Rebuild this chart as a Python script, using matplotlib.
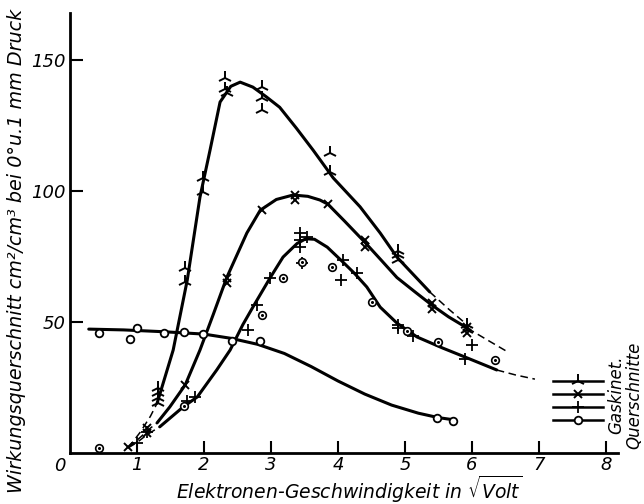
import matplotlib

matplotlib.use("Agg")
import matplotlib.pyplot as plt

# ---- curves (x in sqrt(Volt), y in cm^2/cm^3) ----
tri_line_x = [1.30, 1.54, 1.75, 1.94, 2.09, 2.24, 2.40, 2.54, 2.73, 2.93, 3.13, 3.38, 3.63, 3.93, 4.33, 4.63, 4.88, 5.13, 5.37]
tri_line_y = [19.0, 39.3, 66.0, 97.7, 115.6, 134.0, 140.0, 141.6, 139.7, 136.0, 132.0, 124.0, 115.6, 105.0, 94.0, 84.0, 74.8, 68.0, 61.5]
tri_dash_x = [5.37, 5.65, 5.93]
tri_dash_y = [61.5, 55.0, 48.9]
tri_low_x = [0.87, 1.05, 1.20, 1.30]
tri_low_y = [2.0, 8.0, 14.0, 19.0]

crs_line_x = [1.30, 1.49, 1.72, 1.94, 2.14, 2.34, 2.64, 2.84, 3.08, 3.33, 3.55, 3.73, 3.85, 4.10, 4.40, 4.65, 4.88, 5.15, 5.40, 5.65, 5.93]
crs_line_y = [11.5, 17.6, 26.0, 39.3, 53.0, 67.0, 84.0, 92.7, 96.8, 98.5, 98.0, 96.6, 95.0, 88.5, 80.5, 73.5, 67.0, 61.5, 56.5, 52.0, 47.7]
crs_dash_x = [5.93, 6.24, 6.54]
crs_dash_y = [47.7, 43.0, 38.5]
crs_low_x = [0.87, 1.05, 1.20, 1.30]
crs_low_y = [2.0, 6.0, 9.5, 11.5]

pls_line_x = [1.34, 1.69, 1.90, 2.19, 2.39, 2.58, 2.73, 2.99, 3.18, 3.39, 3.52, 3.65, 3.84, 4.07, 4.25, 4.43, 4.63, 4.88, 5.18, 5.57, 5.90, 6.37]
pls_line_y = [10.0, 17.6, 21.4, 31.7, 39.3, 49.0, 55.7, 67.0, 74.8, 80.0, 81.8, 81.6, 78.6, 73.0, 68.5, 63.4, 55.7, 49.6, 44.3, 40.0, 36.6, 31.7]
pls_dash_x = [6.37, 6.65, 6.94]
pls_dash_y = [31.7, 29.8, 28.2]
pls_low_x = [0.87, 1.00, 1.15, 1.34]
pls_low_y = [2.0, 4.0, 7.0, 10.0]

cir_line_x = [0.28, 0.80, 1.40, 2.00, 2.40, 2.80, 3.20, 3.60, 4.00, 4.40, 4.80, 5.20, 5.50, 5.75]
cir_line_y = [47.3, 47.0, 46.3, 45.4, 43.8, 41.5, 38.0, 33.0, 27.5, 22.5, 18.3, 15.2, 13.5, 12.6]

# ---- measured points ----
tri_x = [1.31, 1.31, 1.31, 1.31, 1.72, 1.72, 1.99, 1.99, 2.31, 2.31, 2.34, 2.87, 2.87, 2.87, 3.88, 3.88, 4.90, 4.90, 4.90, 5.93, 5.93]
tri_y = [24.8, 23.0, 21.0, 19.0, 70.6, 65.3, 105.0, 99.6, 143.0, 139.0, 137.4, 139.7, 135.5, 131.0, 114.5, 107.3, 77.0, 75.6, 73.7, 48.9, 47.0]

crs_x = [0.87, 1.15, 1.15, 1.72, 2.34, 2.34, 2.87, 3.36, 3.36, 3.85, 4.40, 4.40, 5.40, 5.40, 5.93, 5.93]
crs_y = [2.3, 9.5, 7.6, 26.0, 66.8, 65.0, 92.7, 98.5, 96.6, 95.0, 81.3, 78.6, 57.2, 55.0, 48.0, 46.0]

pls_x = [1.00, 1.15, 1.75, 1.87, 2.66, 2.79, 2.99, 3.43, 3.43, 3.43, 3.54, 3.46, 4.07, 4.28, 4.04, 4.90, 4.90, 5.12, 6.00, 5.90]
pls_y = [3.8, 8.0, 20.0, 21.4, 47.0, 56.5, 67.0, 84.0, 81.3, 78.6, 82.4, 72.5, 73.7, 68.7, 66.0, 49.0, 47.7, 44.7, 41.2, 35.9]

cir_x = [0.43, 0.90, 1.00, 1.40, 1.70, 1.99, 2.42, 2.84, 5.48, 5.72]
cir_y = [46.0, 43.5, 47.7, 45.8, 46.2, 45.4, 42.7, 42.7, 13.4, 12.2]

dot_x = [0.43, 1.70, 2.87, 3.18, 3.46, 3.91, 4.51, 5.03, 5.49, 6.34]
dot_y = [2.0, 18.0, 52.7, 66.8, 72.9, 71.0, 57.6, 46.6, 42.4, 35.5]

x_ticks = [1, 2, 3, 4, 5, 6, 7, 8]
y_ticks = [50, 100, 150]

plt.rcParams["font.family"] = "DejaVu Sans"
plt.rcParams["mathtext.fontset"] = "dejavusans"

fig = plt.figure(figsize=(6.44, 5.04), dpi=100)
ax = fig.add_axes([70 / 644, 51 / 504, 548 / 644, 440 / 504])

solid = dict(color="black", lw=2.2, solid_capstyle="round", solid_joinstyle="round")
dashed = dict(color="black", lw=1.1, dashes=(5, 3))

ax.plot(tri_line_x, tri_line_y, **solid)
ax.plot(tri_dash_x, tri_dash_y, **dashed)
ax.plot(tri_low_x, tri_low_y, **dashed)
ax.plot(crs_line_x, crs_line_y, **solid)
ax.plot(crs_dash_x, crs_dash_y, **dashed)
ax.plot(crs_low_x, crs_low_y, **dashed)
ax.plot(pls_line_x, pls_line_y, **solid)
ax.plot(pls_dash_x, pls_dash_y, **dashed)
ax.plot(pls_low_x, pls_low_y, **dashed)
ax.plot(cir_line_x, cir_line_y, **solid)

ax.plot(tri_x, tri_y, ls="none", marker="2", ms=10, mew=1.4, color="black")
ax.plot(crs_x, crs_y, ls="none", marker="x", ms=6, mew=1.4, color="black")
ax.plot(pls_x, pls_y, ls="none", marker="+", ms=8, mew=1.3, color="black")
ax.plot(cir_x, cir_y, ls="none", marker="o", ms=5.5, mew=1.3, mfc="white", mec="black")
ax.plot(dot_x, dot_y, ls="none", marker="o", ms=5.5, mew=1.2, mfc="white", mec="black")
ax.plot(dot_x, dot_y, ls="none", marker="o", ms=2.2, mew=0, color="black")

# legend key on the right
handles = [
    plt.Line2D([], [], color="black", lw=1.8, marker="2", ms=10, mew=1.4),
    plt.Line2D([], [], color="black", lw=1.8, marker="x", ms=6, mew=1.4),
    plt.Line2D([], [], color="black", lw=1.8, marker="+", ms=8, mew=1.3),
    plt.Line2D([], [], color="black", lw=1.8, marker="o", ms=5.5, mew=1.3, mfc="white"),
]
ax.legend(handles, [""] * 4, loc="upper left", bbox_to_anchor=(0.881, 0.175), frameon=False,
          handlelength=5.2, handletextpad=0, labelspacing=0.32, numpoints=1, borderpad=0,
          borderaxespad=0, fontsize=7)
fig.text(625 / 644, 1 - 395 / 504, "Gaskinet.\nQuerschnitte", rotation=90, style="italic",
         fontsize=12, ha="center", va="center", linespacing=1.0)

ax.set_xlim(0, 8.18)
ax.set_ylim(0, 168)
ax.spines["top"].set_visible(False)
ax.spines["right"].set_visible(False)
for s in ("left", "bottom"):
    ax.spines[s].set_linewidth(2.0)
ax.set_xticks(x_ticks)
ax.set_yticks(y_ticks)
ax.tick_params(direction="in", length=9, width=1.5, labelsize=13, pad=2.5)
ax.tick_params(axis="y", pad=3)
for lab in ax.get_xticklabels() + ax.get_yticklabels():
    lab.set_style("italic")
ax.annotate("0", xy=(0, 0), xytext=(-7, -3), textcoords="offset points", ha="center", va="top",
            fontsize=13, style="italic")

ax.set_xlabel(r"Elektronen-Geschwindigkeit in $\sqrt{\mathit{Volt}}$", fontsize=13.5, style="italic",
              va="baseline")
ax.xaxis.set_label_coords(0.51, -0.1035)
fig.text(17 / 644, 1 - 251 / 504, "Wirkungsquerschnitt cm²/cm³ bei 0°u.1 mm Druck", rotation=90,
         fontsize=13.8, style="italic", ha="center", va="center")

fig.savefig("out.png", dpi=100)
